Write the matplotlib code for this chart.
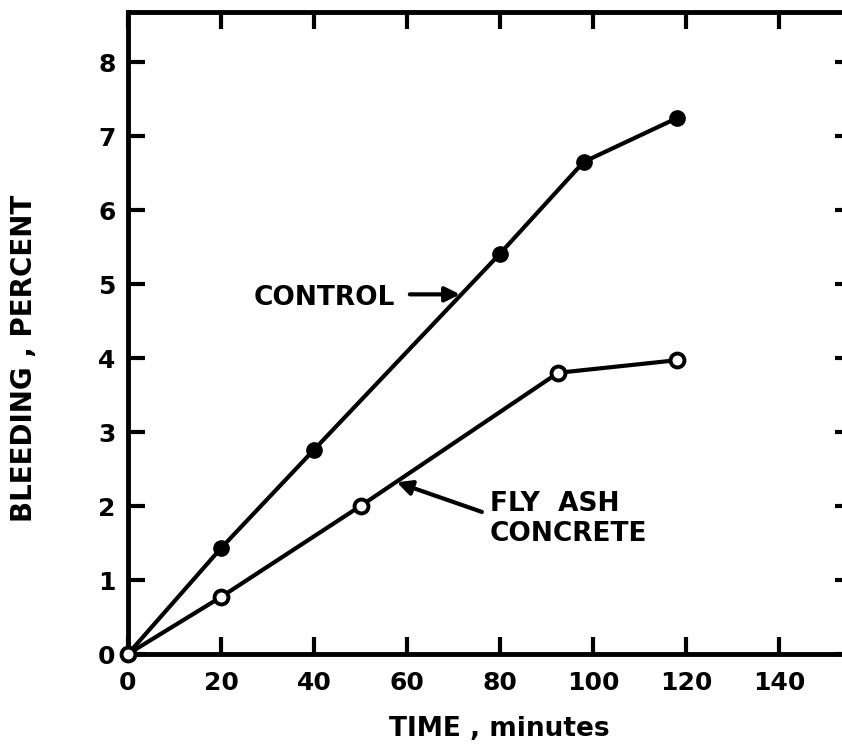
import matplotlib
matplotlib.use("Agg")
import matplotlib.pyplot as plt

# Data
control_time = [0, 20, 40, 80, 98, 118]
control_bleed = [0, 1.43, 2.76, 5.41, 6.65, 7.24]
flyash_time = [0, 20, 50, 92.5, 118]
flyash_bleed = [0, 0.77, 2.0, 3.8, 3.97]
x_ticks = [0, 20, 40, 60, 80, 100, 120, 140]
y_ticks = [0, 1, 2, 3, 4, 5, 6, 7, 8]

plt.rcParams['font.family'] = ['DejaVu Sans']
plt.rcParams['font.weight'] = 'bold'

W, H = 842, 745
fig = plt.figure(figsize=(W / 100, H / 100), dpi=100)
x0, x1, y0, y1 = 128, 852, 654, 12
ax = fig.add_axes([x0 / W, (H - y0) / H, (x1 - x0) / W, (y0 - y1) / H])
ax.set_xlim(0, (x1 - x0) / 4.65)
ax.set_ylim(0, (y0 - y1) / 74.0)

ax.plot(control_time, control_bleed, color='black', lw=3, marker='o',
        ms=11, mfc='black', mec='black', clip_on=False, zorder=3)
ax.plot(flyash_time, flyash_bleed, color='black', lw=3, marker='o',
        ms=10, mfc='white', mec='black', mew=2.8, clip_on=False, zorder=3)

ax.set_xticks(x_ticks)
ax.set_yticks(y_ticks)
ax.set_xticklabels([str(v) for v in x_ticks], fontsize=18, fontweight='bold')
ax.set_yticklabels([str(v) for v in y_ticks], fontsize=18, fontweight='bold')
ax.tick_params(which='both', direction='in', top=True, right=True,
               length=12, width=3, color='black')
ax.tick_params(axis='x', pad=12)
ax.tick_params(axis='y', pad=9)
for s in ax.spines.values():
    s.set_linewidth(3.5)

arrow = dict(arrowstyle='-|>', lw=3, color='black', mutation_scale=22,
             shrinkA=0, shrinkB=0)
ax.text(57.4, 4.81, 'CONTROL', ha='right', va='center', fontsize=19,
        fontweight='bold')
ax.annotate('', xy=(71.4, 4.86), xytext=(60.6, 4.86), arrowprops=arrow)
ax.text(77.8, 1.83, 'FLY  ASH\nCONCRETE', ha='left', va='center',
        fontsize=19, fontweight='bold', linespacing=1.2)
ax.annotate('', xy=(57.8, 2.32), xytext=(76.1, 1.92), arrowprops=arrow)

fig.text((389 + 610) / 2 / W, 1 - 729 / H, 'TIME , minutes', ha='center',
         va='center', fontsize=19, fontweight='bold')
fig.text(24 / W, 1 - 358 / H, 'BLEEDING , PERCENT', ha='center',
         va='center', rotation=90, fontsize=20, fontweight='bold')

fig.savefig('out.png', dpi=100)
